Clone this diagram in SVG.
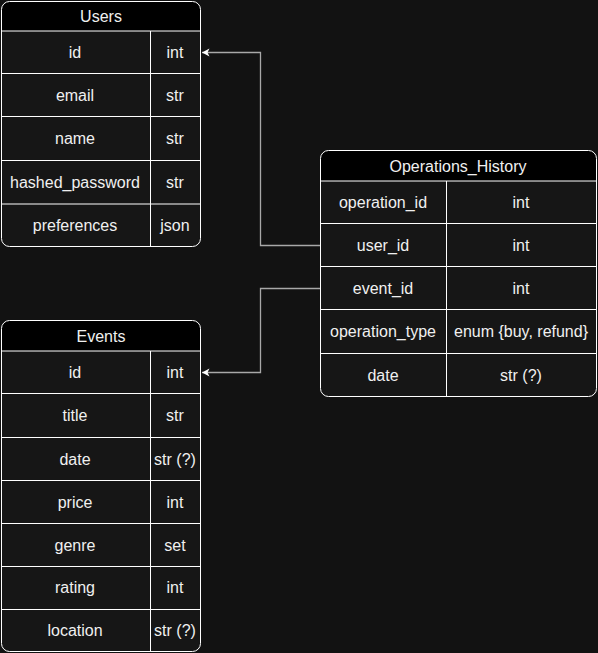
<svg xmlns="http://www.w3.org/2000/svg" width="598" height="653" viewBox="0 0 598 653">
<defs>
<style>
.bg{fill:#121212}
.hd{fill:#000000}
.body{fill:#161616}
.ln{stroke:#ffffff;stroke-width:1;fill:none}
.t{font-family:"Liberation Sans",Arial,sans-serif;font-size:16px;fill:#f0f0f0;text-anchor:middle;dominant-baseline:central}
.c{stroke:#a8a8a8;stroke-width:1.3;fill:none}
</style>
<marker id="arr" markerWidth="12" markerHeight="12" refX="9" refY="6" orient="auto" markerUnits="userSpaceOnUse" overflow="visible">
<path d="M1.5,2 L9,6 L1.5,10 L3.5,6 Z" fill="#ffffff"/>
</marker>
</defs>
<rect class="bg" x="0" y="0" width="598" height="653"/>
<g id="connectors">
<path class="c" d="M320.5,245.5 H260.5 V52.5 H202" marker-end="url(#arr)"/>
<path class="c" d="M320.5,288.5 H260.5 V372.5 H202" marker-end="url(#arr)"/>
</g>
<g id="users">
<path class="body" d="M1.5,31 H200.5 V238.5 Q200.5,246.5 192.5,246.5 H9.5 Q1.5,246.5 1.5,238.5 Z"/>
<path class="hd" d="M9.5,1.5 H192.5 Q200.5,1.5 200.5,9.5 V31 H1.5 V9.5 Q1.5,1.5 9.5,1.5 Z"/>
<rect class="ln" x="1.5" y="1.5" width="199" height="245" rx="8"/>
<path class="ln" d="M1.5,31 H200.5 M1.5,73.5 H200.5 M1.5,116.5 H200.5 M1.5,160.5 H200.5 M1.5,204 H200.5 M150.5,31 V246.5"/>
<text class="t" x="101" y="16">Users</text>
<text class="t" x="75" y="52">id</text><text class="t" x="175" y="52">int</text>
<text class="t" x="75" y="95">email</text><text class="t" x="175" y="95">str</text>
<text class="t" x="75" y="138">name</text><text class="t" x="175" y="138">str</text>
<text class="t" x="75" y="182">hashed_password</text><text class="t" x="175" y="182">str</text>
<text class="t" x="75" y="225">preferences</text><text class="t" x="175" y="225">json</text>
</g>
<g id="events">
<path class="body" d="M1.5,351 H200.5 V643.5 Q200.5,651.5 192.5,651.5 H9.5 Q1.5,651.5 1.5,643.5 Z"/>
<path class="hd" d="M9.5,320.5 H192.5 Q200.5,320.5 200.5,328.5 V351 H1.5 V328.5 Q1.5,320.5 9.5,320.5 Z"/>
<rect class="ln" x="1.5" y="320.5" width="199" height="331" rx="8"/>
<path class="ln" d="M1.5,351 H200.5 M1.5,393.5 H200.5 M1.5,437.5 H200.5 M1.5,480.5 H200.5 M1.5,523.5 H200.5 M1.5,566.5 H200.5 M1.5,609.5 H200.5 M150.5,351 V651.5"/>
<text class="t" x="101" y="336">Events</text>
<text class="t" x="75" y="372">id</text><text class="t" x="175" y="372">int</text>
<text class="t" x="75" y="415">title</text><text class="t" x="175" y="415">str</text>
<text class="t" x="75" y="459">date</text><text class="t" x="175" y="459">str (?)</text>
<text class="t" x="75" y="502">price</text><text class="t" x="175" y="502">int</text>
<text class="t" x="75" y="545">genre</text><text class="t" x="175" y="545">set</text>
<text class="t" x="75" y="587">rating</text><text class="t" x="175" y="587">int</text>
<text class="t" x="75" y="630">location</text><text class="t" x="175" y="630">str (?)</text>
</g>
<g id="operations_history">
<path class="body" d="M320.5,181 H596.5 V388.5 Q596.5,396.5 588.5,396.5 H328.5 Q320.5,396.5 320.5,388.5 Z"/>
<path class="hd" d="M328.5,150.5 H588.5 Q596.5,150.5 596.5,158.5 V181 H320.5 V158.5 Q320.5,150.5 328.5,150.5 Z"/>
<rect class="ln" x="320.5" y="150.5" width="276" height="246" rx="8"/>
<path class="ln" d="M320.5,181 H596.5 M320.5,223.5 H596.5 M320.5,266.5 H596.5 M320.5,309.5 H596.5 M320.5,353.5 H596.5 M446.5,181 V396.5"/>
<text class="t" x="458" y="166">Operations_History</text>
<text class="t" x="383" y="202">operation_id</text><text class="t" x="521" y="202">int</text>
<text class="t" x="383" y="245">user_id</text><text class="t" x="521" y="245">int</text>
<text class="t" x="383" y="288">event_id</text><text class="t" x="521" y="288">int</text>
<text class="t" x="383" y="331">operation_type</text><text class="t" x="521" y="331">enum {buy, refund}</text>
<text class="t" x="383" y="375">date</text><text class="t" x="521" y="375">str (?)</text>
</g>
</svg>
